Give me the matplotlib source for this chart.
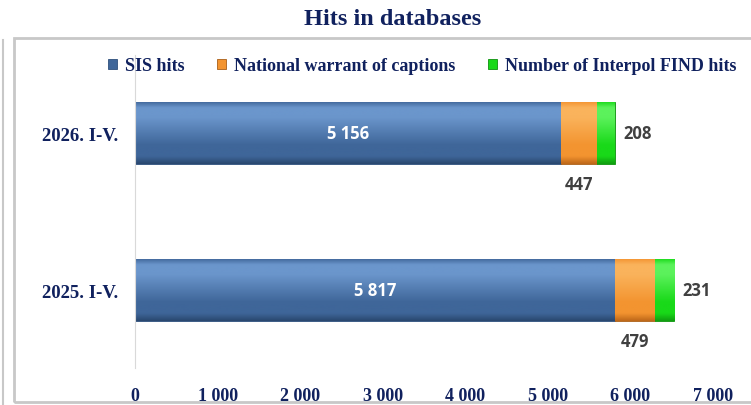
import matplotlib.pyplot as plt
import numpy as np
from matplotlib.patches import Rectangle
from matplotlib.colors import to_rgb

# Data
periods = ['2025. I-V.', '2026. I-V.']
sis_hits = [5817, 5156]
national_warrant = [479, 447]
interpol_find = [231, 208]
series_names = ['SIS hits', 'National warrant of captions', 'Number of Interpol FIND hits']
colors = ['#3F6699', '#F39430', '#19D919']
light = ['#6B96CC', '#FAB35C', '#5CF25C']
dark = ['#2A4870', '#BF691A', '#10A010']
xticks = [0, 1000, 2000, 3000, 4000, 5000, 6000, 7000]

navy = '#10215E'
serif = 'Liberation Serif'
sans = 'Open Sans'


def fmt(v):
    return f"{v:,}".replace(',', ' ')


def shade(ax, bars, base, hi, lo):
    # vertical bevel-like gradient clipped to each bar
    stops = np.array([0.0, 0.12, 0.3, 0.75, 0.9, 1.0])
    cols = np.array([to_rgb(lo), to_rgb(base), to_rgb(base), to_rgb(hi), to_rgb(hi), to_rgb(base)])
    t = np.linspace(0, 1, 64)
    grad = np.stack([np.interp(t, stops, cols[:, k]) for k in range(3)], axis=1)[:, None, :]
    for r in bars:
        x0, y0, w, hh = r.get_x(), r.get_y(), r.get_width(), r.get_height()
        im = ax.imshow(grad, extent=(x0, x0 + w, y0, y0 + hh), origin='lower',
                       aspect='auto', interpolation='bicubic', zorder=2.2)
        im.set_clip_path(r)


fig = plt.figure(figsize=(7.51, 4.06), dpi=100)
ax = fig.add_axes([0.18, 0.09, 0.769, 0.773])

y = np.arange(len(periods))
h = 0.4
b1 = ax.barh(y, sis_hits, height=h, color=colors[0], edgecolor='#2E4F7C', linewidth=0.6, label=series_names[0])
left2 = np.array(sis_hits)
b2 = ax.barh(y, national_warrant, height=h, left=left2, color=colors[1], edgecolor='#A85E18', linewidth=0.6, label=series_names[1])
left3 = left2 + np.array(national_warrant)
b3 = ax.barh(y, interpol_find, height=h, left=left3, color=colors[2], edgecolor='#0E900E', linewidth=0.6, label=series_names[2])

for bars, c, hi, lo in zip([b1, b2, b3], colors, light, dark):
    shade(ax, bars, c, hi, lo)

# data labels
for i in range(len(periods)):
    ax.text(sis_hits[i] / 2, y[i], fmt(sis_hits[i]), ha='center', va='center',
            color='white', fontsize=12, fontweight='bold', family=sans, zorder=5)
    ax.text(sis_hits[i] + national_warrant[i] / 2, y[i] - h / 2 - 0.07, fmt(national_warrant[i]),
            ha='center', va='top', color='#404040', fontsize=12, fontweight='bold', family=sans)
    ax.text(left3[i] + interpol_find[i] + 110, y[i], fmt(interpol_find[i]), ha='left', va='center',
            color='#404040', fontsize=12, fontweight='bold', family=sans)

ax.set_xlim(0, 7000)
ax.set_ylim(-0.5, 1.5)
ax.set_xticks(xticks)
ax.set_xticklabels([fmt(v) for v in xticks], fontsize=13, fontweight='bold', family=serif, color=navy)
ax.set_yticks(y)
ax.set_yticklabels(periods, fontsize=13.5, fontweight='bold', family=serif, color=navy)
ax.tick_params(axis='x', length=0, pad=13)
ax.tick_params(axis='y', length=0, pad=12)
for s in ['top', 'right', 'bottom']:
    ax.spines[s].set_visible(False)
ax.spines['left'].set_color('#D9D9D9')

leg = fig.legend(handles=[b1, b2, b3], loc='center', bbox_to_anchor=(0.562, 0.835), ncol=3, frameon=False,
                 handlelength=0.5, handleheight=0.5, handletextpad=0.45, columnspacing=1.8,
                 prop={'family': serif, 'weight': 'bold', 'size': 13})
for t in leg.get_texts():
    t.set_color(navy)

fig.text(0.523, 0.952, 'Hits in databases', ha='center', va='center', fontsize=17.5,
         fontweight='bold', family=serif, color=navy)

# chart area frame
fig.patches.append(Rectangle((0.018, 0.008), 1.0, 0.895, transform=fig.transFigure, fill=False,
                             edgecolor='#C8C8C8', linewidth=2))
fig.lines.append(plt.Line2D([0.004, 0.004], [0.0, 0.9], transform=fig.transFigure,
                            color='#C8C8C8', linewidth=1.5))

fig.savefig('out.png', dpi=100)
